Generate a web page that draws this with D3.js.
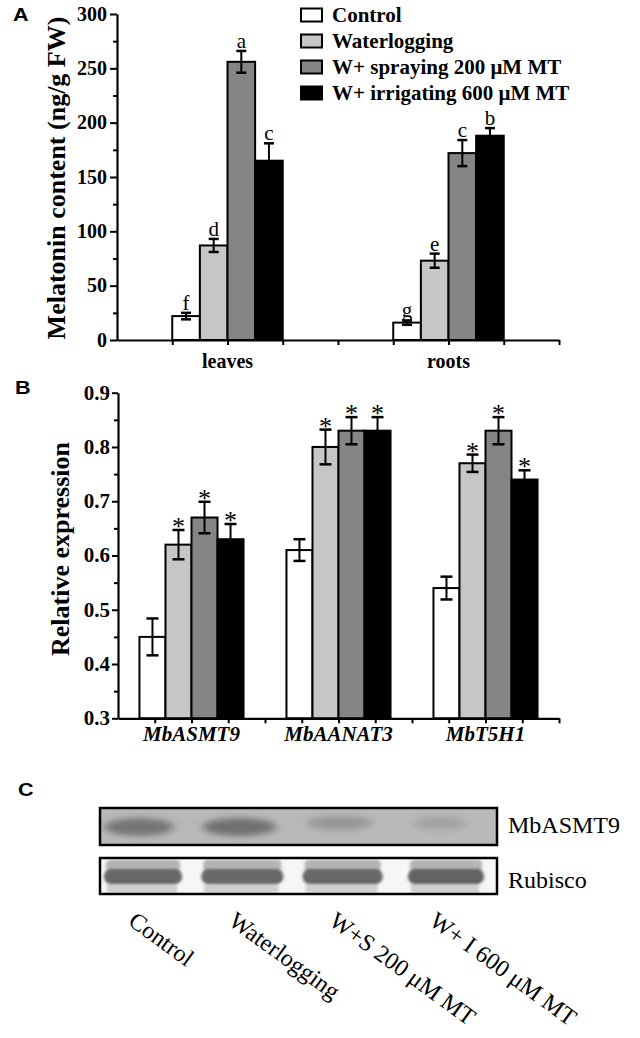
<!DOCTYPE html>
<html>
<head>
<meta charset="utf-8">
<script src="https://cdn.jsdelivr.net/npm/d3@7/dist/d3.min.js"></script>
<style>
  html, body { margin: 0; padding: 0; background: #fff; }
  svg { display: block; }
  text { font-family: "Liberation Serif", "Times New Roman", serif; fill: #000; }
</style>
</head>
<body>
<svg id="chart" width="640" height="1038"></svg>
<script>
// ---------------- DATA ----------------
const treatments = ["Control", "Waterlogging", "W+ spraying 200 \u03bcM MT", "W+ irrigating 600 \u03bcM MT"];
const treatmentColors = ["#ffffff", "#c6c6c6", "#858585", "#000000"];

// Panel A: melatonin content (ng/g FW)
const tissues = ["leaves", "roots"];
const tissuePositions = [1, 3];
const melatoninLeaves = [22, 87, 256, 165];
const melatoninLeavesErr = [3, 6, 10, 16];
const melatoninRoots = [16, 73, 172, 188];
const melatoninRootsErr = [2, 6.5, 12, 7];
const lettersLeaves = ["f", "d", "a", "c"];
const lettersRoots = ["g", "e", "c", "b"];
const yTicksA = [0, 50, 100, 150, 200, 250, 300];

// Panel B: relative expression
const genes = ["MbASMT9", "MbAANAT3", "MbT5H1"];
const genePositions = [1, 3, 5];
const exprASMT9 = [0.45, 0.62, 0.67, 0.63];
const exprASMT9Err = [0.034, 0.027, 0.029, 0.028];
const exprAANAT3 = [0.61, 0.80, 0.83, 0.83];
const exprAANAT3Err = [0.02, 0.032, 0.025, 0.025];
const exprT5H1 = [0.54, 0.77, 0.83, 0.74];
const exprT5H1Err = [0.021, 0.016, 0.025, 0.017];
const signifMarks = ["", "*", "*", "*"];
const yTicksB = [0.3, 0.4, 0.5, 0.6, 0.7, 0.8, 0.9];

// Panel C: western blot (relative band intensity)
const blotLanes = ["Control", "Waterlogging", "W+S 200 \u03bcM MT", "W+ I 600 \u03bcM MT"];
const asmtBandIntensity = [0.78, 0.82, 0.42, 0.28];
const asmtBandWidth = [70, 74, 66, 52];
const rubiscoBandIntensity = [0.92, 0.9, 0.92, 0.95];
const rubiscoBandWidth = [78, 82, 80, 76];

// ---------------- DRAWING ----------------
const svg = d3.select("#chart");
const BOLD = "bold";

function panelLetter(txt, x, y) {
  svg.append("text").attr("x", x).attr("y", y)
    .style("font-family", "'Liberation Sans', Arial, sans-serif")
    .style("font-weight", "bold").style("font-size", "18px")
    .attr("transform", `translate(${x},${y}) scale(1.2,1) translate(${-x},${-y})`)
    .text(txt);
}

function styleAxis(g) {
  g.selectAll("path.domain").attr("stroke", "#000").attr("stroke-width", 2.2);
  g.selectAll(".tick line").attr("stroke", "#000").attr("stroke-width", 2);
}

// ---------- Panel A ----------
(function () {
  const x = d3.scaleLinear().domain([0, 4]).range([117, 559]);
  const y = d3.scaleLinear().domain([0, 300]).range([340, 14]);
  const barW = 0.25;
  const g = svg.append("g");

  const series = [
    { vals: melatoninLeaves, errs: melatoninLeavesErr, letters: lettersLeaves, pos: tissuePositions[0] },
    { vals: melatoninRoots, errs: melatoninRootsErr, letters: lettersRoots, pos: tissuePositions[1] }
  ];

  const minor = g.append("g").attr("transform", "translate(117,0)")
    .call(d3.axisLeft(y).tickValues(d3.range(25, 300, 50)).tickSize(4).tickFormat(""));
  minor.select("path.domain").remove();
  styleAxis(minor);

  const yAx = g.append("g").attr("transform", "translate(117,0)")
    .call(d3.axisLeft(y).tickValues(yTicksA).tickSize(7).tickSizeOuter(0).tickPadding(3));
  styleAxis(yAx);
  yAx.selectAll("text").style("font-size", "20px").style("font-weight", BOLD)
    .style("font-family", "'Liberation Serif', serif").attr("dy", "0.3em");

  series.forEach(s => {
    s.vals.forEach((v, i) => {
      const x0 = x(s.pos - 2 * barW + i * barW);
      const x1 = x(s.pos - 2 * barW + (i + 1) * barW);
      g.append("rect").attr("x", x0).attr("y", y(v)).attr("width", x1 - x0).attr("height", y(0) - y(v))
        .attr("fill", treatmentColors[i]).attr("stroke", "#000").attr("stroke-width", 2);
      const cx = (x0 + x1) / 2;
      const e = s.errs[i];
      g.append("line").attr("x1", cx).attr("x2", cx).attr("y1", y(v + e)).attr("y2", y(v - e))
        .attr("stroke", "#000").attr("stroke-width", 2);
      [v + e, v - e].forEach(ev => {
        g.append("line").attr("x1", cx - 5).attr("x2", cx + 5).attr("y1", y(ev)).attr("y2", y(ev))
          .attr("stroke", "#000").attr("stroke-width", 2.5);
      });
      g.append("text").attr("x", cx).attr("y", y(v + e) - 3).attr("text-anchor", "middle")
        .style("font-size", "21px").text(s.letters[i]);
    });
  });

  const xAx = g.append("g").attr("transform", "translate(0,340)")
    .call(d3.axisBottom(x).tickValues(d3.range(0.5, 4.01, 0.5)).tickSize(5).tickSizeOuter(0).tickFormat(""));
  styleAxis(xAx);

  tissues.forEach((t, i) => {
    g.append("text").attr("x", x(tissuePositions[i])).attr("y", 368).attr("text-anchor", "middle")
      .style("font-size", "20px").style("font-weight", BOLD).text(t);
  });

  g.append("text").attr("transform", "translate(65,178) rotate(-90)").attr("text-anchor", "middle")
    .style("font-size", "26px").style("font-weight", BOLD).text("Melatonin content (ng/g FW)");

  treatments.forEach((t, i) => {
    const ty = 8.5 + i * 26;
    g.append("rect").attr("x", 301).attr("y", ty).attr("width", 21).attr("height", 13)
      .attr("fill", treatmentColors[i]).attr("stroke", "#000").attr("stroke-width", 2);
    g.append("text").attr("x", 332).attr("y", ty + 13.5)
      .style("font-size", "21px").style("font-weight", BOLD).text(t);
  });

  panelLetter("A", 13, 21);
})();

// ---------- Panel B ----------
(function () {
  const x = d3.scaleLinear().domain([0, 6]).range([118, 559]);
  const y = d3.scaleLinear().domain([0.3, 0.9]).range([718.3, 392.7]);
  const barW = 0.354;
  const g = svg.append("g");
  const series = [
    { vals: exprASMT9, errs: exprASMT9Err, pos: genePositions[0] },
    { vals: exprAANAT3, errs: exprAANAT3Err, pos: genePositions[1] },
    { vals: exprT5H1, errs: exprT5H1Err, pos: genePositions[2] }
  ];

  const minor = g.append("g").attr("transform", "translate(118,0)")
    .call(d3.axisLeft(y).tickValues(d3.range(0.35, 0.9, 0.1)).tickSize(4).tickFormat(""));
  minor.select("path.domain").remove();
  styleAxis(minor);

  const yAx = g.append("g").attr("transform", "translate(118,0)")
    .call(d3.axisLeft(y).tickValues(yTicksB).tickSize(6).tickSizeOuter(0).tickPadding(2).tickFormat(d3.format(".1f")));
  styleAxis(yAx);
  yAx.selectAll("text").style("font-size", "21px").style("font-weight", BOLD)
    .style("font-family", "'Liberation Serif', serif").attr("dy", "0.3em");

  series.forEach(s => {
    s.vals.forEach((v, i) => {
      const x0 = x(s.pos - 2 * barW + i * barW);
      const x1 = x(s.pos - 2 * barW + (i + 1) * barW);
      g.append("rect").attr("x", x0).attr("y", y(v)).attr("width", x1 - x0).attr("height", y(0.3) - y(v))
        .attr("fill", treatmentColors[i]).attr("stroke", "#000").attr("stroke-width", 2);
      const cx = (x0 + x1) / 2;
      const e = s.errs[i];
      g.append("line").attr("x1", cx).attr("x2", cx).attr("y1", y(v + e)).attr("y2", y(v - e))
        .attr("stroke", "#000").attr("stroke-width", 2);
      [v + e, v - e].forEach(ev => {
        g.append("line").attr("x1", cx - 6).attr("x2", cx + 6).attr("y1", y(ev)).attr("y2", y(ev))
          .attr("stroke", "#000").attr("stroke-width", 2.5);
      });
      if (signifMarks[i]) {
        g.append("text").attr("x", cx).attr("y", y(v + e) + 5).attr("text-anchor", "middle")
          .style("font-size", "26px").text(signifMarks[i]);
      }
    });
  });

  const xAx = g.append("g").attr("transform", "translate(0,718.3)")
    .call(d3.axisBottom(x).tickValues(d3.range(0.5, 6.01, 0.5)).tickSize(5).tickSizeOuter(0).tickFormat(""));
  styleAxis(xAx);

  genes.forEach((t, i) => {
    g.append("text").attr("x", x(genePositions[i])).attr("y", 741).attr("text-anchor", "middle")
      .style("font-size", "21px").style("font-weight", BOLD).style("font-style", "italic").text(t);
  });

  g.append("text").attr("transform", "translate(69,549) rotate(-90)").attr("text-anchor", "middle")
    .style("font-size", "26px").style("font-weight", BOLD).text("Relative expression");

  panelLetter("B", 15, 394);
})();

// ---------- Panel C ----------
(function () {
  const defs = svg.append("defs");
  defs.append("filter").attr("id", "blur1").attr("x", "-30%").attr("y", "-80%").attr("width", "160%").attr("height", "260%")
    .append("feGaussianBlur").attr("stdDeviation", "4 3");
  defs.append("filter").attr("id", "blur2").attr("x", "-20%").attr("y", "-50%").attr("width", "140%").attr("height", "200%")
    .append("feGaussianBlur").attr("stdDeviation", "1.6 1.2");
  defs.append("clipPath").attr("id", "clipBlot1").append("rect").attr("x", 101).attr("y", 809).attr("width", 395).attr("height", 35);
  defs.append("clipPath").attr("id", "clipBlot2").append("rect").attr("x", 101).attr("y", 859).attr("width", 395).attr("height", 34);

  const lane = d3.scalePoint().domain(blotLanes).range([139, 440]);
  const shade = d3.scaleLinear().domain([0, 1]).range([190, 95]);
  const g = svg.append("g");

  const b1 = g.append("g").attr("clip-path", "url(#clipBlot1)");
  b1.append("rect").attr("x", 100).attr("y", 808).attr("width", 397).attr("height", 37).attr("fill", "#b9b9b9");
  blotLanes.forEach((l, i) => {
    const c = Math.round(shade(asmtBandIntensity[i]));
    const strong = asmtBandIntensity[i] > 0.5;
    b1.append("ellipse").attr("cx", lane(l)).attr("cy", strong ? 827 : 823)
      .attr("rx", asmtBandWidth[i] / 2).attr("ry", strong ? 9 : 7)
      .attr("fill", `rgb(${c},${c},${c})`).attr("filter", "url(#blur1)");
  });
  g.append("rect").attr("x", 100).attr("y", 808).attr("width", 397).attr("height", 37)
    .attr("fill", "none").attr("stroke", "#000").attr("stroke-width", 2.5);

  const b2 = g.append("g").attr("clip-path", "url(#clipBlot2)");
  b2.append("rect").attr("x", 100).attr("y", 858).attr("width", 397).attr("height", 36).attr("fill", "#f6f6f6");
  blotLanes.forEach((l, i) => {
    const w = rubiscoBandWidth[i];
    const k = rubiscoBandIntensity[i];
    const cx = lane(l) + (i === 0 ? 4 : i === 3 ? 6 : 3);
    b2.append("rect").attr("x", cx - w / 2 + 2).attr("y", 860).attr("width", w - 4).attr("height", 12)
      .attr("rx", 4).attr("fill", "#b4b4b4").attr("filter", "url(#blur2)");
    b2.append("rect").attr("x", cx - w / 2 + 3).attr("y", 883).attr("width", w - 8).attr("height", 10)
      .attr("fill", "#cfcfcf").attr("filter", "url(#blur2)");
    const c = Math.round(190 - 95 * k);
    b2.append("rect").attr("x", cx - w / 2).attr("y", 869).attr("width", w).attr("height", 15)
      .attr("rx", 7).attr("fill", `rgb(${c},${c},${c})`).attr("filter", "url(#blur2)");
  });
  g.append("rect").attr("x", 100).attr("y", 858).attr("width", 397).attr("height", 36)
    .attr("fill", "none").attr("stroke", "#000").attr("stroke-width", 2.5);

  g.append("text").attr("x", 508).attr("y", 833).style("font-size", "24px").text("MbASMT9");
  g.append("text").attr("x", 508).attr("y", 888).style("font-size", "24px").text("Rubisco");

  blotLanes.forEach((l, i) => {
    const bx = lane(l) - 12;
    g.append("text").attr("transform", `translate(${bx},924) rotate(36)`)
      .style("font-size", "24px").text(l);
  });

  panelLetter("C", 18, 796);
})();
</script>
</body>
</html>
